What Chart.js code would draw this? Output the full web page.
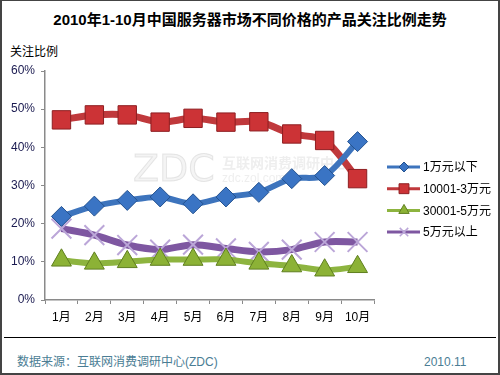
<!DOCTYPE html>
<html>
<head>
<meta charset="utf-8">
<script src="https://cdn.jsdelivr.net/npm/chart.js@4/dist/chart.umd.min.js"></script>
<style>
  html, body { margin: 0; padding: 0; background: #fff; }
  #page { position: relative; width: 500px; height: 375px; overflow: hidden; background: #fff;
          font-family: "Liberation Sans", "Noto Sans CJK SC", sans-serif; }
  #frame { position: absolute; left: 0; top: 0; width: 500px; height: 375px; box-sizing: border-box;
           border: 2px solid #444; border-top-width: 1px; pointer-events: none; }
  #title { position: absolute; left: 0; top: 10px; width: 500px; text-align: center;
           font-weight: bold; font-size: 15px; line-height: 20px; color: #000; }
  #ylabel { position: absolute; left: 10px; top: 44px; font-size: 12px; line-height: 16px; color: #000; }
  #chartBox { position: absolute; left: 0; top: 55px; width: 500px; height: 275px; }
  #rule { position: absolute; left: 4px; top: 337px; width: 492px; height: 1px; background: #000; }
  #source { position: absolute; left: 17px; top: 354px; font-size: 12px; line-height: 16px; color: #4a7d94; }
  #date { position: absolute; left: 424px; top: 354px; font-size: 12px; line-height: 16px; color: #4a7d94; }
</style>
</head>
<body>
<div id="page">
  <div id="title">2010年1-10月中国服务器市场不同价格的产品关注比例走势</div>
  <div id="ylabel">关注比例</div>
  <div id="chartBox"><canvas id="chart" width="500" height="275"></canvas></div>
  <div id="rule"></div>
  <div id="source">数据来源：互联网消费调研中心(ZDC)</div>
  <div id="date">2010.11</div>
  <div id="frame"></div>
</div>
<script>
const months = ['1月', '2月', '3月', '4月', '5月', '6月', '7月', '8月', '9月', '10月'];
const seriesNames = ['1万元以下', '10001-3万元', '30001-5万元', '5万元以上'];
const under1w = [21.9, 24.6, 26.1, 27.0, 25.2, 27.0, 28.2, 31.8, 32.6, 41.5];
const from1to3w = [47.2, 48.5, 48.5, 46.6, 47.6, 46.6, 46.7, 43.5, 41.8, 31.8];
const from3to5w = [10.4, 9.6, 10.0, 10.6, 10.6, 10.6, 9.6, 8.9, 7.8, 8.7];
const over5w = [18.7, 17.0, 14.4, 13.2, 14.5, 13.5, 12.6, 13.2, 15.2, 15.2];
const yTicks = [0, 10, 20, 30, 40, 50, 60];

const axisColor = '#8a8a8a';

// faint watermark behind the lines
const watermark = {
    id: 'watermark',
    beforeDatasetsDraw(chart) {
        const ctx = chart.ctx;
        ctx.save();
        ctx.fillStyle = 'rgba(210,210,210,0.25)';
        ctx.strokeStyle = 'rgba(190,190,190,0.35)';
        ctx.lineWidth = 1;
        ctx.font = '38px "DejaVu Sans"';
        ctx.textBaseline = 'middle';
        ctx.fillText('ZDC', 133, 116);
        ctx.strokeText('ZDC', 133, 116);
        ctx.fillStyle = 'rgba(200,200,200,0.3)';
        ctx.font = 'bold 14px "Noto Sans CJK SC"';
        ctx.fillText('互联网消费调研中心', 222, 108);
        ctx.font = '12px "Liberation Sans"';
        ctx.fillText('zdc.zol.com.cn', 222, 124);
        ctx.restore();
    }
};

// legend: line sample with marker, drawn from the dataset styles
const sideLegend = {
    id: 'sideLegend',
    afterDraw(chart) {
        const ctx = chart.ctx;
        ctx.save();
        chart.data.datasets.forEach(function (ds, i) {
            const y = 112 + i * 21.7;
            ctx.strokeStyle = ds.borderColor;
            ctx.lineWidth = 3;
            ctx.beginPath();
            ctx.moveTo(387, y);
            ctx.lineTo(420, y);
            ctx.stroke();
            ctx.fillStyle = ds.pointBackgroundColor;
            ctx.strokeStyle = ds.pointBorderColor;
            ctx.lineWidth = ds.pointStyle === 'crossRot' ? 1.5 : 1;
            Chart.helpers.drawPoint(ctx, { pointStyle: ds.pointStyle, radius: ds.legendRadius, rotation: 0, borderWidth: 1 }, 404, y);
            ctx.fillStyle = '#000';
            ctx.font = '12px "Liberation Sans", "Noto Sans CJK SC"';
            ctx.textBaseline = 'middle';
            ctx.fillText(ds.label, 423, y + 1);
        });
        ctx.restore();
    }
};

new Chart(document.getElementById('chart'), {
    type: 'line',
    data: {
        labels: months,
        datasets: [
            {
                label: seriesNames[0], data: under1w,
                borderColor: '#3d74bd', borderWidth: 6,
                pointStyle: 'rectRot', pointRadius: 10,
                pointBackgroundColor: '#3a74c4', pointBorderColor: '#24528f', pointBorderWidth: 1,
                legendRadius: 5, tension: 0.3
            },
            {
                label: seriesNames[1], data: from1to3w,
                borderColor: '#c0393c', borderWidth: 7,
                pointStyle: 'rect', pointRadius: 13,
                pointBackgroundColor: '#cc3336', pointBorderColor: '#8e1f22', pointBorderWidth: 1,
                legendRadius: 7, tension: 0.3
            },
            {
                label: seriesNames[2], data: from3to5w,
                borderColor: '#8db43f', borderWidth: 6,
                pointStyle: 'triangle', pointRadius: 11.5,
                pointBackgroundColor: '#8cb236', pointBorderColor: '#5f7f1f', pointBorderWidth: 1,
                legendRadius: 6, tension: 0.3
            },
            {
                label: seriesNames[3], data: over5w,
                borderColor: '#7e57a1', borderWidth: 7,
                pointStyle: 'crossRot', pointRadius: 14,
                pointBackgroundColor: '#c2b0dc', pointBorderColor: '#bba6d8', pointBorderWidth: 2,
                legendRadius: 6, tension: 0.3
            }
        ]
    },
    options: {
        responsive: false,
        animation: false,
        layout: { padding: { top: 15, left: 0, right: 126, bottom: 0 } },
        plugins: {
            legend: { display: false },
            tooltip: { enabled: false }
        },
        scales: {
            x: {
                offset: true,
                grid: { offset: true, drawOnChartArea: false, drawTicks: true, tickLength: 4, color: axisColor },
                border: { color: axisColor, width: 1.5 },
                ticks: { color: '#000', padding: 6, font: { family: '"Liberation Sans", "Noto Sans CJK SC"', size: 12 }, maxRotation: 0 },
                afterFit(s) { s.height = 30; }
            },
            y: {
                min: 0, max: 60,
                afterBuildTicks(s) { s.ticks = yTicks.map(v => ({ value: v })); },
                grid: { drawOnChartArea: false, drawTicks: true, tickLength: 4, color: axisColor },
                border: { color: axisColor, width: 1.5 },
                ticks: {
                    color: '#1a1a50', padding: 6,
                    font: { family: '"Liberation Sans"', size: 12 },
                    callback: v => v + '%'
                },
                afterFit(s) { s.width = 45; }
            }
        }
    },
    plugins: [watermark, sideLegend]
});
</script>
</body>
</html>
